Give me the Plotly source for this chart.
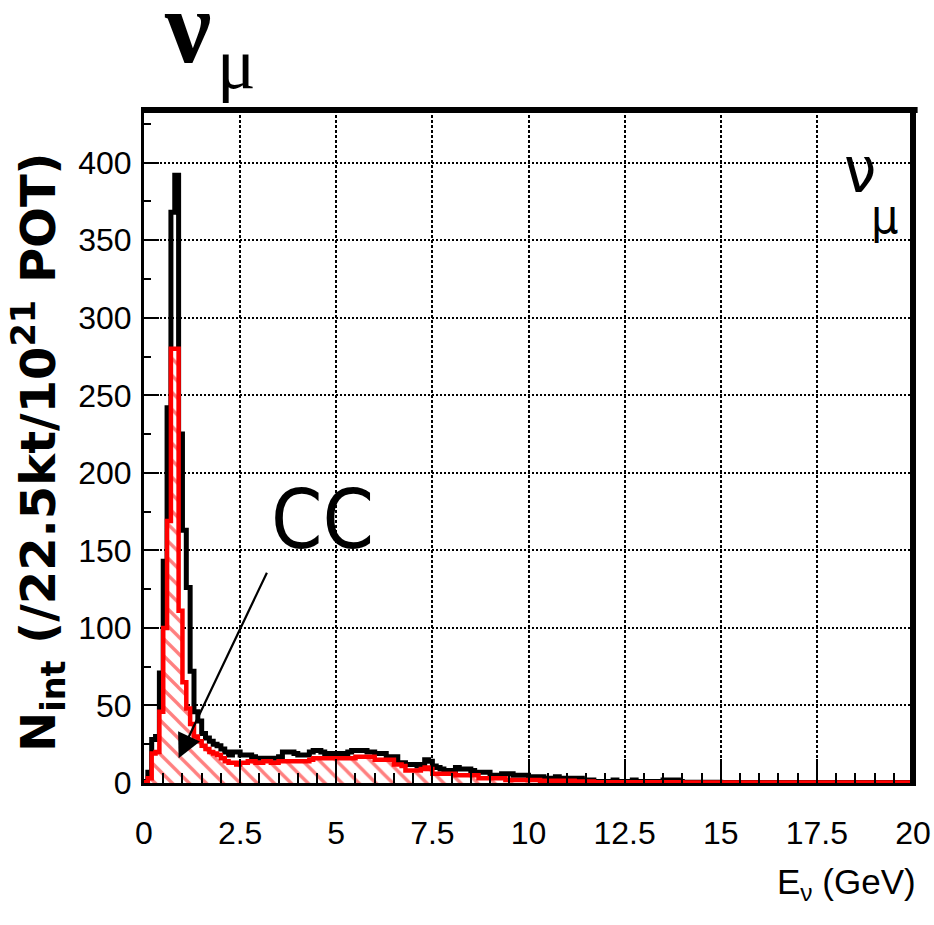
import plotly.graph_objects as go

# ---- data: 0.1 GeV bins from 0 to 20 GeV ----
bin_width = 0.1
n_bins = 200

total_counts = [
    1, 7, 28, 30, 71, 143, 242, 368, 392, 225,
    163, 126, 72, 46, 40, 32, 29, 27, 25, 24,
    22, 20, 18, 20, 20, 18, 18, 18, 17, 16,
    16, 16, 16, 16, 16, 17, 20, 20, 20, 19,
    18, 18, 18, 20, 21, 21, 20, 19, 19, 19,
    19, 19, 19, 20, 21, 21, 21, 21, 20, 20,
    19, 19, 19, 17, 17, 17, 13, 13, 12, 12,
    12, 11, 12, 15, 14, 11, 10, 9, 8, 8,
    8, 10, 9, 9, 9, 8, 7, 7, 7, 7,
    5, 5, 5, 6, 6, 6, 5, 5, 5, 5,
    4, 4, 3, 4, 3, 3, 3, 4, 3, 2,
    3, 3, 2, 3, 2, 2, 2, 1, 1, 1,
    1, 1, 2, 1, 1, 1, 1, 2, 1, 1,
    1, 1, 1, 1, 1, 2, 2, 2, 2, 1,
    0.5, 0.5, 0.5, 0.5, 0.5, 0.5, 0.5, 0.5, 0.5, 0.5,
    0.3, 0.3, 0.3, 0.3, 0.3, 0.3, 0.3, 0.3, 0.3, 0.3,
    0.3, 0.3, 0.3, 0.3, 0.3, 0.3, 0.3, 0.3, 0.3, 0.3,
    0.3, 0.3, 0.3, 0.3, 0.3, 0.3, 0.3, 0.3, 0.3, 0.3,
    0.3, 0.3, 0.3, 0.3, 0.3, 0.3, 0.3, 0.3, 0.3, 0.3,
    0.3, 0.3, 0.3, 0.3, 0.3, 0.3, 0.3, 0.3, 0.3, 0.3,
]

cc_counts = [
    0.5, 3, 19, 20, 46, 100, 169, 280, 280, 111,
    65, 48, 38, 30, 27, 24, 22, 20, 19, 18,
    16, 14, 13, 13, 12, 13, 13, 14, 14, 13,
    13, 14, 14, 13, 13, 14, 14, 14, 14, 14,
    14, 14, 14, 15, 16, 16, 16, 16, 16, 16,
    16, 16, 16, 16, 16, 17, 17, 17, 17, 17,
    15, 15, 15, 15, 15, 12, 12, 11, 8, 8,
    8, 8, 9, 10, 9, 6, 6, 6, 6, 6,
    6, 5, 5, 5, 5, 5, 5, 3, 3, 3,
    3, 3, 3, 3, 2, 2, 2, 2, 2, 2,
    2, 2, 2, 1.5, 1.5, 1.5, 1.5, 1.5, 1.5, 1.5,
    1.5, 1.5, 1, 1, 1, 1, 1, 0.5, 0.5, 0.5,
    0.5, 0.5, 0.5, 0.5, 0.5, 0.5, 0.5, 0.5, 0.5, 0.5,
    0.5, 0.5, 0.5, 0.5, 0.5, 0.5, 0.5, 0.5, 0.5, 0.5,
    0.3, 0.3, 0.3, 0.3, 0.3, 0.3, 0.3, 0.3, 0.3, 0.3,
    0.3, 0.3, 0.3, 0.3, 0.3, 0.3, 0.3, 0.3, 0.3, 0.3,
    0.3, 0.3, 0.3, 0.3, 0.3, 0.3, 0.3, 0.3, 0.3, 0.3,
    0.3, 0.3, 0.3, 0.3, 0.3, 0.3, 0.3, 0.3, 0.3, 0.3,
    0.3, 0.3, 0.3, 0.3, 0.3, 0.3, 0.3, 0.3, 0.3, 0.3,
    0.3, 0.3, 0.3, 0.3, 0.3, 0.3, 0.3, 0.3, 0.3, 0.3,
]

x_tickvals = [0, 2.5, 5, 7.5, 10, 12.5, 15, 17.5, 20]
x_ticktext = ["0", "2.5", "5", "7.5", "10", "12.5", "15", "17.5", "20"]
y_tickvals = [0, 50, 100, 150, 200, 250, 300, 350, 400]
y_ticktext = ["0", "50", "100", "150", "200", "250", "300", "350", "400"]


def step_xy(values):
    edges = [i * bin_width for i in range(n_bins + 1)]
    xs = [edges[0]] + edges[:-1] + [edges[-1]]
    ys = [0] + list(values) + [0]
    return xs, ys


SANS = "Liberation Sans, Arial, sans-serif"
COND = "DejaVu Sans Condensed, DejaVu Sans, sans-serif"
SERIF = "Liberation Serif, DejaVu Serif, serif"

fig = go.Figure()

tx, ty = step_xy(total_counts)
fig.add_trace(go.Scatter(
    x=tx, y=ty, mode="lines", line=dict(color="black", width=5, shape="hv"),
    hoverinfo="skip", showlegend=False,
))

cx, cy = step_xy(cc_counts)
fig.add_trace(go.Scatter(
    x=cx, y=cy, mode="lines", line=dict(color="#ff0000", width=4.5, shape="hv"),
    fill="tozeroy",
    fillpattern=dict(shape="\\", fgcolor="#ff0000", bgcolor="white", size=12, solidity=0.28),
    hoverinfo="skip", showlegend=False,
))

L, R, T, B = 144, 21, 110, 142
W, H = 934, 925
PW, PH = W - L - R, H - T - B


def px(xp):
    return (xp - L) / PW


def py(yp):
    return (H - B - yp) / PH


fig.update_layout(
    width=W, height=H,
    margin=dict(l=L, r=R, t=T, b=B, autoexpand=False),
    paper_bgcolor="white", plot_bgcolor="white",
    showlegend=False,
    xaxis=dict(
        range=[0, 20], tickmode="array", tickvals=x_tickvals, ticktext=x_ticktext,
        ticks="inside", ticklen=24, tickwidth=2, tickcolor="black",
        showline=True, linecolor="black", linewidth=3, mirror=True,
        showgrid=True, gridcolor="black", gridwidth=1.5, griddash="3px,2px",
        zeroline=False, automargin=False,
        tickfont=dict(family=SANS, size=32, color="black"),
        ticklabelstandoff=20,
        minor=dict(ticks="inside", ticklen=10, tickwidth=2, tickcolor="black",
                   dtick=0.5, tick0=0, showgrid=False),
    ),
    yaxis=dict(
        range=[0, 434], tickmode="array", tickvals=y_tickvals, ticktext=y_ticktext,
        ticks="inside", ticklen=15, tickwidth=2, tickcolor="black",
        showline=True, linecolor="black", linewidth=3, mirror=True,
        showgrid=True, gridcolor="black", gridwidth=1.5, griddash="2px,2px",
        zeroline=False, automargin=False,
        tickfont=dict(family=SANS, size=32, color="black"),
        ticklabelstandoff=3,
        minor=dict(ticks="inside", ticklen=7, tickwidth=2, tickcolor="black",
                   dtick=25, tick0=0, showgrid=False),
    ),
)

# thick top and right frame lines
fig.add_shape(type="line", xref="paper", yref="paper", x0=-0.002, x1=1.006, y0=1, y1=1,
              line=dict(color="black", width=6), layer="above")
fig.add_shape(type="line", xref="paper", yref="paper", x0=1, x1=1, y0=0, y1=1,
              line=dict(color="black", width=6), layer="above")

annotations = [
    # big title nu_mu
    dict(text="<b>ν</b>", x=px(187), y=py(26), xref="paper", yref="paper",
         showarrow=False, xanchor="center", yanchor="middle",
         font=dict(family=SERIF, size=104, color="black")),
    dict(text="μ", x=px(236), y=py(64), xref="paper", yref="paper",
         showarrow=False, xanchor="center", yanchor="middle",
         font=dict(family=SERIF, size=72, color="black")),
    # inner nu_mu
    dict(text="ν", x=px(860), y=py(170), xref="paper", yref="paper",
         showarrow=False, xanchor="center", yanchor="middle",
         font=dict(family=COND, size=64, color="black")),
    dict(text="μ", x=px(884), y=py(216), xref="paper", yref="paper",
         showarrow=False, xanchor="center", yanchor="middle",
         font=dict(family=COND, size=48, color="black")),
    # CC label
    dict(text="CC", x=px(322), y=py(519), xref="paper", yref="paper",
         showarrow=False, xanchor="center", yanchor="middle",
         font=dict(family=COND, size=82, color="black")),
    # arrow
    dict(text="", x=0.9, y=16, xref="x", yref="y", showarrow=True,
         ax=89, ay=-187, axref="pixel", ayref="pixel",
         arrowhead=2, arrowsize=2.2, arrowwidth=2.2, arrowcolor="black"),
    # x-axis title
    dict(text="E<sub>ν</sub> (GeV)", x=px(918), y=py(884), xref="paper", yref="paper",
         showarrow=False, xanchor="right", yanchor="middle",
         font=dict(family=SANS, size=35, color="black")),
    # y-axis title
    dict(text="<b>N<sub>int</sub> (/22.5kt/10<sup>21</sup> POT)</b>",
         x=px(38), y=py(452), xref="paper", yref="paper", textangle=-90,
         showarrow=False, xanchor="center", yanchor="middle",
         font=dict(family="DejaVu Sans, sans-serif", size=48, color="black")),
]
fig.update_layout(annotations=annotations)

fig.write_html("out.html")
